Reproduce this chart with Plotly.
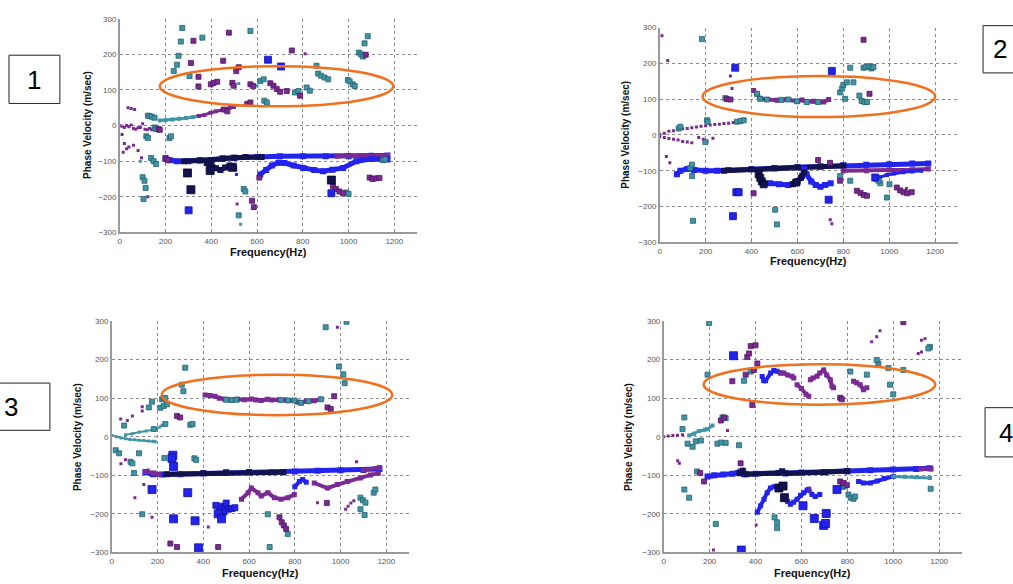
import plotly.graph_objects as go

# ---------------- DATA (frequency Hz, phase velocity m/sec) ----------------
X_TICKS = [0, 200, 400, 600, 800, 1000, 1200]
Y_TICKS = [-300, -200, -100, 0, 100, 200, 300]
PANEL_LABELS = ["1", "2", "3", "4"]
X_TITLE = "Frequency(Hz)"
Y_TITLE = "Phase Velocity (m/sec)"

# ---- Panel 1 ----
P1_TEAL = [(273,274),(267,236),(257,196),(250,171),(236,153),(305,139),(361,247),(571,266),(860,168),(867,146),
           (880,140),(895,135),(911,130),(997,128),(1005,124),(1018,116),(1027,111),(1045,205),(1055,200),(1063,194),
           (1070,231),(1084,251),(614,125),(629,130),(766,93),(781,97),(817,107),(831,98),(632,70),(643,65),
           (123,28),(130,27),(140,25),(152,22),(116,-30),(123,-35),(217,-35),(224,-30),(152,-5),(159,-10),
           (137,-91),(148,-100),(159,-108),(100,-145),(108,-155),(113,-175),(104,-206),(990,-188),(1000,-192),
           (520,-252),(542,-178),(549,-185),(1150,-97),(1160,-95)]
P1_TEAL_DOT = [(528,-277),(600,112),(520,118),(90,-100)]
P1_PURPLE = [(322,238),(311,176),(477,261),(452,182),(344,137),(344,110),(752,211),(398,116),(410,120),(426,123),
             (492,120),(498,112),(509,153),(520,164),(571,116),(583,111),(658,119),(672,112),(686,103),(701,95),
             (730,97),(788,84),(557,61),(571,65),(455,45),(470,40),(932,-170),(945,-178),(960,-185),(975,-190),
             (1092,-146),(1105,-150),(1120,-148),(1135,-147),(578,-211),(586,-229),(610,-146),(1075,199),
             (170,-10),(175,-12),(200,-92),(210,-97)]
P1_PURPLE_DOT = [(810,202),(36,50),(50,48),(65,45),(10,-25),(20,-50),(40,-60),(60,-55),(123,-200),(513,-220),
                 (0,0),(10,-2),(20,-5),(30,0),(40,-3),(50,2),(60,-8),(70,-10),(80,-6),(90,-5),(100,5),
                 (110,-10),(120,-12),(130,-8),(140,-12),(15,-75),(30,-65),(80,-70),(95,-90)]
P1_BLUE = [(648,185),(705,166),(301,-238),(925,-190)]
P1_BLUE_DOT = [(510,-137)]
P1_NAVY = [(296,-133),(395,-126),(311,-180),(925,-153),(492,-117)]
P1_TEAL_CHAIN = [(175,14),(200,15),(230,17),(260,19),(290,21),(320,24),(345,27)]
P1_PURPLE_CHAIN = [(345,27),(370,30),(397,36),(420,40),(450,45),(480,50),(499,52)]
P1_BAND = [(200,-92),(220,-97),(250,-100),(300,-100),(350,-97),(400,-97),(450,-92),(500,-90),(550,-88),
           (600,-88),(700,-86),(800,-86),(900,-86),(1000,-86),(1100,-85),(1170,-84)]
P1_BAND_NAVY = [(280,-100),(350,-98),(400,-97),(450,-93),(500,-90),(550,-88),(620,-88)]
P1_BAND_PURPLE = [(950,-86),(1050,-85),(1170,-84)]
P1_NAVY_CHAIN = [(380,-105),(400,-110),(420,-120),(440,-125),(460,-118),(480,-112),(500,-120)]
P1_LOWER = [(614,-137),(640,-125),(665,-112),(694,-104),(720,-105),(760,-112),(802,-119),(850,-125),
            (889,-128),(930,-124),(976,-119),(1034,-100),(1100,-94),(1170,-95)]

# ---- Panel 2 ----
P2_TEAL = [(184,268),(206,41),(209,37),(83,18),(90,23),(337,37),(352,39),(366,41),(199,-20),(133,-92),(141,-83),
           (141,-115),(145,-240),(503,-209),(511,-250),(786,119),(795,130),(800,140),(815,147),(830,188),
           (844,147),(870,110),(880,95),(893,92),(903,92),(808,101),(888,188),(900,190),(912,192),(922,186),
           (931,190),(286,103),(961,-135),(953,-128),(990,-175),(1001,-138),(786,-115),(830,-128)]
P2_PURPLE_DOT = [(10,277),(35,208),(232,-9),(29,-60),(44,-78),(308,165),(315,130),(743,-237),(750,-248),(1075,-150),
                 (0,2),(20,5),(40,10),(60,12),(80,15),(100,17),(120,18),(140,20),(160,22),(180,24),(200,26),
                 (220,28),(240,29),(260,30),(280,32),(300,33),(320,35),(0,-5),(20,-7),(40,-10),(60,-12),
                 (80,-14),(100,-18),(120,-20),(140,-22),(170,-7),(190,-12),(206,-18)]
P2_PURPLE = [(888,266),(293,100),(308,99),(914,115),(409,-163),(859,-156),(875,-162),(890,-168),(903,-170),
             (786,-128),(1033,-147),(1048,-155),(1062,-160),(1078,-163),(1098,-160),(690,-70),(742,-78)]
P2_BLUE = [(329,188),(334,-160),(344,-160),(319,-227),(736,-181),(750,179),(939,-119)]
P2_NAVY = [(595,-133),(431,-110),(438,-120),(445,-130),(453,-138)]
P2_CURVE = [(409,124),(424,115),(438,101),(467,99),(511,97),(554,99),(598,94),(620,98),(641,92),(670,94),
            (690,92),(714,92),(736,99)]
P2_CURVE_TEAL = [(424,115),(438,101),(467,99),(530,98),(560,99),(598,94),(641,92),(690,92)]
P2_BAND = [(75,-110),(90,-100),(120,-95),(150,-98),(200,-100),(250,-100),(300,-98),(400,-96),(500,-93),
           (600,-90),(700,-88),(800,-85),(900,-83),(1000,-82),(1100,-80),(1170,-80)]
P2_BAND_NAVY = [(280,-100),(400,-96),(500,-93),(600,-90),(700,-88),(800,-86)]
P2_BAND_PURPLE = [(800,-100),(900,-100),(1000,-98),(1100,-97),(1170,-95)]
P2_LOWER = [(480,-135),(520,-138),(560,-140),(600,-130),(620,-115),(630,-95),(640,-110),(660,-130),
            (680,-140),(700,-145),(720,-140),(745,-135)]
P2_LOWER_NAVY = [(580,-138),(600,-130),(615,-120),(628,-105)]
P2_RIGHT_BLUE = [(940,-125),(960,-118),(990,-112),(1020,-108),(1060,-104),(1100,-102),(1140,-100)]

# ---- Panel 3 ----
P3_TEAL = [(321,179),(306,135),(313,118),(220,97),(227,100),(234,100),(176,91),(162,76),(212,75),(227,80),(241,84),
           (343,31),(353,33),(234,33),(184,20),(54,29),(17,-35),(32,-43),(82,-65),(90,-69),(97,-94),(119,-43),
           (133,-201),(361,-56),(369,-60),(769,-252),(690,-286),(682,-201),(1087,-158),(1098,-165),(1109,-171),
           (1087,-188),(1105,-203),(1145,-145),(1152,-137),(935,284),(993,182),(1012,162),(1018,139),(1026,298),
           (230,-55)]
P3_PURPLE_DOT = [(133,67),(133,78),(90,54),(68,42),(39,46),(101,-158),(140,-124),(159,-86),(176,-209),(422,-234),
                 (899,-171),(1070,-65),(986,284),(1022,-188),(1033,-180),(1045,-172),(1058,-166),(60,-60),(40,-70)]
P3_PURPLE = [(285,54),(299,50),(943,76),(957,72),(972,105),(256,-277),(285,-286),(465,-286),(733,-209),(743,-222),
             (752,-230),(762,-239),(940,-172)]
P3_BLUE_BIG = [(267,-48),(263,-56),(270,-77),(176,-137),(332,-145),(270,-213),(364,-218),(379,-288),(465,-200),
               (480,-213)]
P3_BLUE = [(480,-180),(495,-185),(510,-188),(525,-186),(538,-184),(500,-172),(490,-195),(470,-190),(455,-178)]
P3_CURVE = [(408,108),(430,107),(451,105),(470,100),(494,97),(523,95),(550,97),(580,96),(610,98),(630,95),(653,94),
            (680,97),(700,95),(730,96),(760,95),(798,94),(810,90),(827,88),(850,92),(885,93),(914,97)]
P3_CURVE_TEAL = [(500,96),(523,95),(545,96),(740,95),(770,94),(798,94),(827,88),(860,92),(914,97)]
P3_ZERO_DOWN = [(0,3),(20,0),(40,-3),(60,-5),(80,-7),(100,-8),(120,-9),(140,-10),(160,-11),(180,-12),(190,-13)]
P3_ZERO_UP = [(60,5),(90,8),(120,12),(150,15),(180,18),(210,25),(220,30)]
P3_BAND = [(147,-92),(180,-97),(220,-98),(300,-97),(400,-95),(500,-93),(600,-92),(700,-92),(800,-90),(900,-88),
           (1000,-87),(1100,-86),(1170,-84)]
P3_BAND_PURPLE_L = [(147,-90),(184,-94),(205,-97)]
P3_BAND_NAVY = [(240,-97),(400,-95),(500,-93),(600,-92),(750,-92)]
P3_BAND_PURPLE_R = [(1100,-86),(1170,-80)]
P3_LOWER_R = [(885,-120),(943,-133),(986,-124),(1029,-116),(1087,-107),(1131,-99),(1165,-95)]
P3_LOWER_R_BLUE = [(800,-130),(820,-116),(834,-111),(850,-118)]
P3_MID = [(567,-162),(596,-145),(610,-133),(639,-145),(653,-154),(682,-145),(711,-158),(740,-162),(769,-158),
          (798,-150)]

# ---- Panel 4 ----
P4_TEAL = [(198,295),(191,161),(379,169),(350,145),(813,169),(885,161),(979,178),(935,190),(986,135),(1000,110),
           (928,199),(1044,173),(1160,233),(1153,229),(90,50),(82,20),(126,-26),(234,-18),(250,-15),(270,-16),
           (328,-22),(90,-137),(111,-158),(145,-90),(227,-226),(483,-209),(494,-222),(494,-237),(805,-150),
           (815,-158),(827,-161),(834,-155),(1163,-135),(256,50),(270,48),(780,-130),(790,-128),(104,-18),
           (140,-12),(162,-10)]
P4_PURPLE_DOT = [(906,246),(928,259),(942,275),(1109,216),(1123,220),(1123,250),(1138,254),(217,-294),(61,-62),
                 (68,-69),(278,16),(403,-229),(632,-133),(639,-141),(0,0),(20,2),(40,3),(60,4),(82,5)]
P4_PURPLE = [(364,207),(372,216),(379,235),(400,237),(408,190),(393,173),(357,161),(299,144),(386,82),(1044,297),
             (249,42),(263,50),(159,-94),(176,-116),(335,-69),(769,-116),(784,-120),(798,-125),(769,101),(776,97)]
P4_BLUE_BIG = [(304,210),(338,-294),(607,-179),(656,-212),(697,-230),(705,-225),(708,-199),(755,-137)]
P4_NAVY = [(502,-133),(520,-128),(526,-158)]
P4_ZERO_TEAL = [(111,3),(133,8),(155,15),(180,18),(191,20),(213,29)]
P4_ARC_BLUE = [(429,156),(436,145),(444,145),(466,165),(480,172),(494,170),(510,165)]
P4_ARC_PURPLE_0 = [(510,165),(523,165),(540,160),(559,157),(567,152)]
P4_ARC_PURPLE_1 = [(581,135),(600,125),(620,110),(632,105)]
P4_ARC_PURPLE_2 = [(639,148),(650,152),(668,157),(680,165),(697,173),(710,160),(726,148),(733,131),(740,127)]
P4_ARC_PURPLE_3 = [(827,144),(840,140),(856,135),(870,122),(885,127)]
P4_BAND = [(191,-103),(220,-100),(260,-98),(300,-96),(335,-90),(350,-97),(400,-96),(500,-94),(516,-90),(530,-95),
           (600,-93),(700,-92),(800,-90),(900,-87),(1000,-85),(1100,-84),(1159,-82)]
P4_BAND_NAVY = [(330,-95),(345,-88),(360,-97),(500,-94),(516,-90),(530,-95),(700,-92),(800,-89)]
P4_BAND_PURPLE = [(1120,-84),(1165,-84)]
P4_LOWER_1 = [(408,-196),(422,-179),(437,-162),(451,-145),(465,-133),(480,-130)]
P4_LOWER_2 = [(523,-158),(540,-168),(552,-175),(566,-170),(581,-162),(596,-152),(610,-145),(625,-138),(632,-137),
              (646,-150),(660,-155),(680,-150)]
P4_LOWER_R_BLUE = [(849,-116),(870,-120),(900,-120),(930,-115),(960,-108),(1000,-103)]
P4_LOWER_R_TEAL = [(1000,-103),(1050,-104),(1100,-105),(1160,-107)]

# ellipses (data units: x0, x1, y0, y1) per panel
ELLIPSES = [(175,1195,54,167),(187,1200,50,165),(218,1226,56,161),(174,1183,83,188)]

# ---------------- STYLE ----------------
W, H = 1013, 584
TEAL = "#3f95a6"; TEAL_E = "#24606e"
PURPLE = "#7b2a92"; PURPLE_E = "#4e1460"
BLUE = "#2323ee"; BLUE_E = "#1010a0"
NAVY = "#12124e"; NAVY_E = "#05052a"
ORANGE = "#f0701e"

# panel pixel boxes: (left px, right px at 1300 Hz, top px, bottom px)
PANEL_PX = [(118, 416, 15, 232), (659, 958, 24, 242), (110, 408, 322, 557), (663, 962, 322, 557)]

fig = go.Figure()

def axname(i):
    return ("x" if i == 0 else f"x{i+1}"), ("y" if i == 0 else f"y{i+1}")

def pts(i, data, color, edge, size, dot=False):
    xa, ya = axname(i)
    fig.add_trace(go.Scatter(
        x=[p[0] for p in data], y=[p[1] for p in data], mode="markers", xaxis=xa, yaxis=ya,
        marker=dict(symbol="square", size=size, color=color,
                    line=dict(width=0 if dot else 0.8, color=edge)),
        showlegend=False, hoverinfo="skip"))

def chain(i, data, color, width):
    xa, ya = axname(i)
    fig.add_trace(go.Scatter(
        x=[p[0] for p in data], y=[p[1] for p in data], mode="lines+markers", xaxis=xa, yaxis=ya,
        line=dict(color=color, width=width),
        marker=dict(symbol="square", size=width + 1, color=color),
        showlegend=False, hoverinfo="skip"))

# Panel 1
chain(0, P1_BAND, BLUE, 5); chain(0, P1_BAND_NAVY, NAVY, 5); chain(0, P1_BAND_PURPLE, PURPLE, 4)
chain(0, P1_NAVY_CHAIN, NAVY, 5); chain(0, P1_LOWER, BLUE, 5)
chain(0, P1_TEAL_CHAIN, TEAL, 3); chain(0, P1_PURPLE_CHAIN, PURPLE, 3)
pts(0, P1_PURPLE_DOT, PURPLE, PURPLE_E, 3, True); pts(0, P1_TEAL_DOT, TEAL, TEAL_E, 3, True)
pts(0, P1_BLUE_DOT, BLUE, BLUE_E, 3, True)
pts(0, P1_TEAL, TEAL, TEAL_E, 5); pts(0, P1_PURPLE, PURPLE, PURPLE_E, 5)
pts(0, P1_BLUE, BLUE, BLUE_E, 7); pts(0, P1_NAVY, NAVY, NAVY_E, 8)

# Panel 2
chain(1, P2_BAND, BLUE, 5); chain(1, P2_BAND_NAVY, NAVY, 5); chain(1, P2_BAND_PURPLE, PURPLE, 4)
chain(1, P2_LOWER, BLUE, 5); chain(1, P2_LOWER_NAVY, NAVY, 5); chain(1, P2_RIGHT_BLUE, BLUE, 3)
chain(1, P2_CURVE, PURPLE, 4); pts(1, P2_CURVE_TEAL, TEAL, TEAL_E, 5)
pts(1, P2_PURPLE_DOT, PURPLE, PURPLE_E, 3, True)
pts(1, P2_TEAL, TEAL, TEAL_E, 5); pts(1, P2_PURPLE, PURPLE, PURPLE_E, 5)
pts(1, P2_BLUE, BLUE, BLUE_E, 7); pts(1, P2_NAVY, NAVY, NAVY_E, 7)

# Panel 3
chain(2, P3_BAND, BLUE, 5); chain(2, P3_BAND_NAVY, NAVY, 5)
chain(2, P3_BAND_PURPLE_L, PURPLE, 4); chain(2, P3_BAND_PURPLE_R, PURPLE, 4)
chain(2, P3_LOWER_R, PURPLE, 4); chain(2, P3_LOWER_R_BLUE, BLUE, 4); chain(2, P3_MID, PURPLE, 4)
chain(2, P3_CURVE, PURPLE, 4); pts(2, P3_CURVE_TEAL, TEAL, TEAL_E, 5)
chain(2, P3_ZERO_DOWN, TEAL, 2); chain(2, P3_ZERO_UP, TEAL, 2)
pts(2, P3_PURPLE_DOT, PURPLE, PURPLE_E, 3, True)
pts(2, P3_TEAL, TEAL, TEAL_E, 5); pts(2, P3_PURPLE, PURPLE, PURPLE_E, 5)
pts(2, P3_BLUE, BLUE, BLUE_E, 6); pts(2, P3_BLUE_BIG, BLUE, BLUE_E, 8)

# Panel 4
chain(3, P4_BAND, BLUE, 5); chain(3, P4_BAND_NAVY, NAVY, 5); chain(3, P4_BAND_PURPLE, PURPLE, 4)
chain(3, P4_LOWER_1, BLUE, 4); chain(3, P4_LOWER_2, BLUE, 4)
chain(3, P4_LOWER_R_BLUE, BLUE, 4); chain(3, P4_LOWER_R_TEAL, TEAL, 3)
chain(3, P4_ARC_BLUE, BLUE, 4); chain(3, P4_ARC_PURPLE_0, PURPLE, 4); chain(3, P4_ARC_PURPLE_1, PURPLE, 4)
chain(3, P4_ARC_PURPLE_2, PURPLE, 4); chain(3, P4_ARC_PURPLE_3, PURPLE, 4)
chain(3, P4_ZERO_TEAL, TEAL, 3)
pts(3, P4_PURPLE_DOT, PURPLE, PURPLE_E, 3, True)
pts(3, P4_TEAL, TEAL, TEAL_E, 5); pts(3, P4_PURPLE, PURPLE, PURPLE_E, 5)
pts(3, P4_BLUE_BIG, BLUE, BLUE_E, 8); pts(3, P4_NAVY, NAVY, NAVY_E, 8)

# ---------------- LAYOUT ----------------
tickfont = dict(family="Liberation Sans, Arial, sans-serif", size=8, color="#555")
layout = dict(width=W, height=H, margin=dict(l=0, r=0, t=0, b=0),
              paper_bgcolor="white", plot_bgcolor="white", showlegend=False)
for i, (l, r, t, b) in enumerate(PANEL_PX):
    sfx = "" if i == 0 else str(i + 1)
    layout["xaxis" + sfx] = dict(
        domain=[l / W, r / W], range=[0, 1300], tickvals=X_TICKS, ticks="inside", ticklen=3,
        tickcolor="#888", showline=True, linecolor="#9a9a9a", linewidth=1.5, showgrid=True,
        gridcolor="#8a8a8a", griddash="dot", gridwidth=1, zeroline=False, tickfont=tickfont,
        anchor="y" + sfx, fixedrange=True)
    layout["yaxis" + sfx] = dict(
        domain=[1 - b / H, 1 - t / H], range=[-300, 300], tickvals=Y_TICKS, ticks="inside", ticklen=3,
        tickcolor="#888", showline=True, linecolor="#9a9a9a", linewidth=1.5, showgrid=True,
        gridcolor="#8a8a8a", griddash="dot", gridwidth=1, zeroline=False, tickfont=tickfont,
        anchor="x" + sfx, fixedrange=True)
fig.update_layout(**layout)

shapes = []
for i, (x0, x1, y0, y1) in enumerate(ELLIPSES):
    xa, ya = axname(i)
    shapes.append(dict(type="circle", xref=xa, yref=ya, x0=x0, x1=x1, y0=y0, y1=y1,
                       line=dict(color=ORANGE, width=2.5)))

# numbered boxes (pixel positions)
BOX_PX = [(7, 58, 52, 101), (983, 1020, 22, 70), (-32, 48, 385, 433), (985, 1030, 410, 460)]
LABEL_PX = [(32.5, 77), (1000, 46), (9, 409), (1006, 436)]
annotations = []
for (x0, x1, y0, y1), (lx, ly), lab in zip(BOX_PX, LABEL_PX, PANEL_LABELS):
    shapes.append(dict(type="rect", xref="paper", yref="paper", x0=x0 / W, x1=x1 / W,
                       y0=1 - y1 / H, y1=1 - y0 / H, line=dict(color="#222", width=1)))
    annotations.append(dict(x=lx / W, y=1 - ly / H, xref="paper", yref="paper", text=lab, showarrow=False,
                            font=dict(family="Liberation Sans, Arial", size=26, color="black"),
                            xanchor="center", yanchor="middle"))

XT_PX = [(267, 252), (808, 261), (259, 578), (812, 578)]
YT_PX = [(85, 123), (625, 133), (75, 440), (627, 440)]
for (x, y) in XT_PX:
    annotations.append(dict(x=x / W, y=1 - y / H, xref="paper", yref="paper", text="<b>" + X_TITLE + "</b>",
                            showarrow=False, xanchor="center", yanchor="middle",
                            font=dict(family="Liberation Sans, Arial", size=11, color="#111")))
for (x, y) in YT_PX:
    annotations.append(dict(x=x / W, y=1 - y / H, xref="paper", yref="paper", text="<b>" + Y_TITLE + "</b>",
                            showarrow=False, xanchor="center", yanchor="middle", textangle=-90,
                            font=dict(family="Liberation Sans, Arial", size=10, color="#111")))

fig.update_layout(shapes=shapes, annotations=annotations)
fig.write_html("out.html", config={"displayModeBar": False},
               post_script="document.body.style.margin='0';document.body.style.overflow='hidden';")
